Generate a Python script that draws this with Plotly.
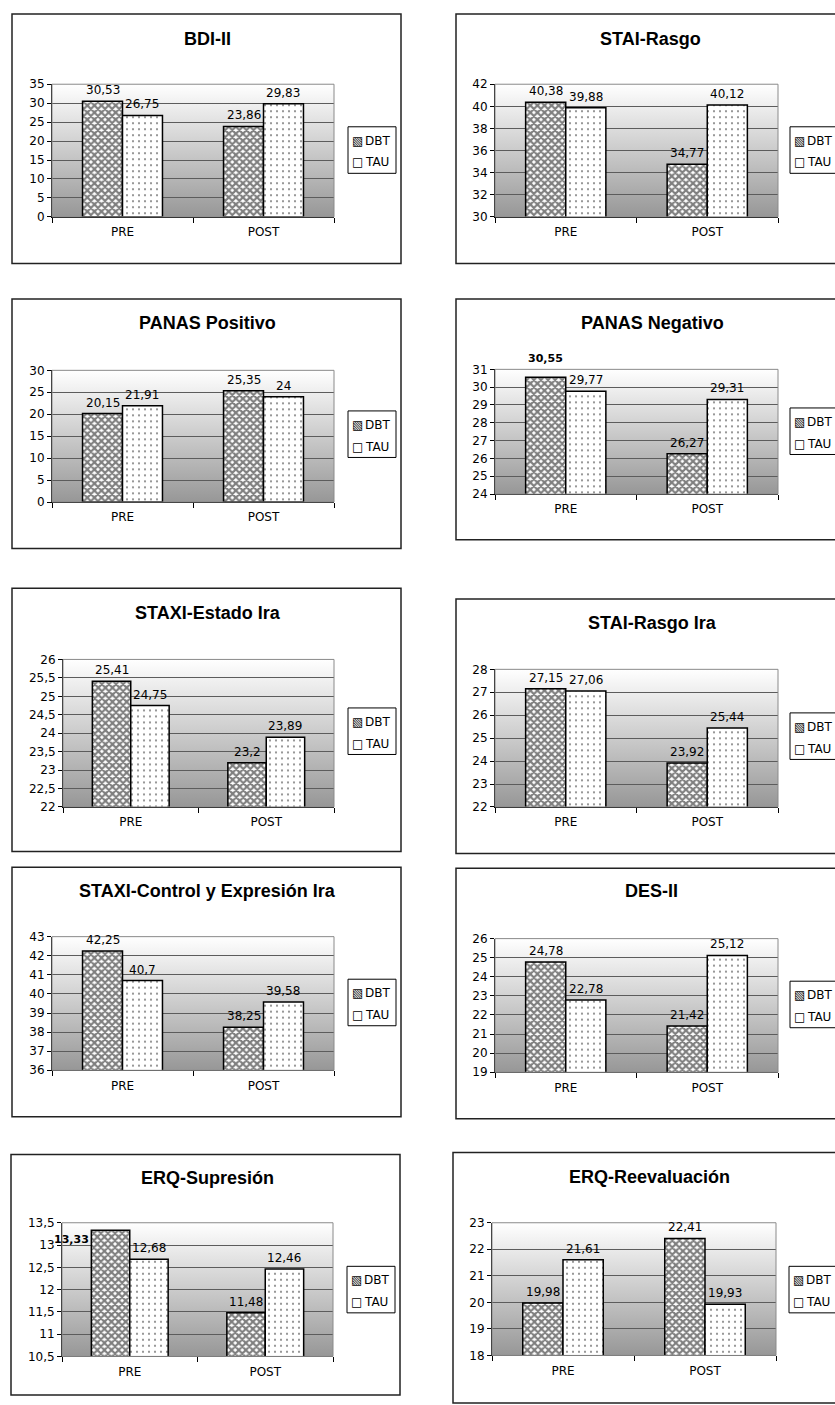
import base64
import plotly.graph_objects as go

# ---- data -------------------------------------------------------------
titles = ["BDI-II", "STAI-Rasgo", "PANAS Positivo", "PANAS Negativo",
          "STAXI-Estado Ira", "STAI-Rasgo Ira", "STAXI-Control y Expresión Ira",
          "DES-II", "ERQ-Supresión", "ERQ-Reevaluación"]
phases = ["PRE", "POST"]
groups = ["DBT", "TAU"]
dbt = [[30.53, 23.86], [40.38, 34.77], [20.15, 25.35], [30.55, 26.27],
       [25.41, 23.2], [27.15, 23.92], [42.25, 38.25], [24.78, 21.42],
       [13.33, 11.48], [19.98, 22.41]]
tau = [[26.75, 29.83], [39.88, 40.12], [21.91, 24], [29.77, 29.31],
       [24.75, 23.89], [27.06, 25.44], [40.7, 39.58], [22.78, 25.12],
       [12.68, 12.46], [21.61, 19.93]]
y_min = [0, 30, 0, 24, 22, 22, 36, 19, 10.5, 18]
y_max = [35, 42, 30, 31, 26, 28, 43, 26, 13.5, 23]
y_step = [5, 2, 5, 1, 0.5, 1, 1, 1, 0.5, 1]

# ---- page geometry (pixels) ------------------------------------------
W, H = 835, 1405
frames = [(12, 7, 401, 259), (456, 7, 850, 259),
          (12, 295, 401, 547), (456, 295, 850, 538),
          (12, 587, 401, 853), (456, 598, 850, 855),
          (12, 869, 401, 1121), (456, 870, 850, 1123),
          (11, 1159, 400, 1402), (453, 1157, 850, 1410)]
plots = [(52, 78, 334, 212), (495, 78, 778, 212),
         (52, 367, 334, 500), (495, 366, 778, 492),
         (63, 659, 334, 808), (495, 669, 778, 808),
         (52, 939, 334, 1074), (495, 941, 778, 1076),
         (62, 1228, 333, 1363), (492, 1228, 776, 1362)]
title_pos = [(207, 32), (650, 32), (207, 319), (652, 319), (208, 612),
             (652, 622), (207, 893), (651, 893), (207, 1183), (649, 1182)]
legend_pos = [(348, 121), (790, 121), (348, 408), (790, 405), (348, 708),
              (790, 713), (348, 982), (790, 984), (347, 1272), (789, 1272)]

BARGAP = 0.433
HALF = (1 - BARGAP) / 4  # centre offset of each bar inside a category

TICK_FONT = dict(family="DejaVu Sans", size=12, color="black")
TITLE_FONT = dict(family="Liberation Sans, Arial", size=18, color="black")

PAT_DBT = dict(shape="x", fgcolor="black", bgcolor="white", size=5, solidity=0.68)
PAT_TAU = dict(shape=".", fgcolor="black", bgcolor="white", size=6, solidity=0.1)

# vertical white-to-grey gradient used as the plot-area fill
grad_svg = ('<svg xmlns="http://www.w3.org/2000/svg" width="10" height="100" '
            'preserveAspectRatio="none"><defs><linearGradient id="g" x1="0" y1="0" '
            'x2="0" y2="1"><stop offset="0" stop-color="#ffffff"/>'
            '<stop offset="1" stop-color="#979797"/></linearGradient></defs>'
            '<rect width="10" height="100" fill="url(#g)"/></svg>')
grad_src = "data:image/svg+xml;base64," + base64.b64encode(grad_svg.encode()).decode()


def px(x):
    return x / W


def py(y):
    return 1 - y / H


def fmt(v):
    return f"{v:g}".replace(".", ",")


# label placement tweaks for a couple of emphasised values
special = {(3, 0, 0): dict(xanchor="center", yanchor="bottom", yshift=10),
           (8, 0, 0): dict(xanchor="right", yanchor="middle", yshift=-9)}

fig = go.Figure()
layout = dict(width=W, height=H, margin=dict(l=0, r=0, t=0, b=0),
              paper_bgcolor="white", plot_bgcolor="rgba(0,0,0,0)",
              barmode="group", bargap=BARGAP, bargroupgap=0,
              separators=", ", showlegend=False)
shapes, annotations, images = [], [], []

for i in range(len(titles)):
    n = "" if i == 0 else str(i + 1)
    xa, ya = "x" + n, "y" + n
    x0, y0, x1, y1 = plots[i]

    for series, vals, pat in ((0, dbt[i], PAT_DBT), (1, tau[i], PAT_TAU)):
        fig.add_trace(go.Bar(
            x=[0, 1], y=vals, name=groups[series], xaxis=xa, yaxis=ya,
            marker=dict(color="white", line=dict(color="black", width=1.5),
                        pattern=pat),
            showlegend=False, hoverinfo="skip"))
        for c, v in enumerate(vals):
            xc = c + (-HALF if series == 0 else HALF)
            sp = special.get((i, series, c))
            if sp is None:
                annotations.append(dict(
                    x=xc, y=v, xref=xa, yref=ya, text=fmt(v), showarrow=False,
                    xanchor="center", yanchor="bottom", yshift=2, font=TICK_FONT))
            else:
                xx = xc - HALF if sp["xanchor"] == "right" else xc
                annotations.append(dict(
                    x=xx, y=v, xref=xa, yref=ya, text="<b>" + fmt(v) + "</b>",
                    showarrow=False, xanchor=sp["xanchor"],
                    yanchor=sp["yanchor"], yshift=sp["yshift"],
                    font=dict(family="DejaVu Sans", size=11, color="black")))

    layout["xaxis" + n] = dict(
        domain=[px(x0), px(x1)], anchor=ya, range=[-0.5, 1.5],
        tickmode="array", tickvals=[0, 1], ticktext=phases, ticks="",
        showline=True, linecolor="black", linewidth=1, showgrid=False,
        zeroline=False, tickfont=TICK_FONT, ticklabelstandoff=4,
        minor=dict(tickmode="array", tickvals=[-0.5, 0.5, 1.5], ticks="outside",
                   ticklen=5, tickcolor="black", showgrid=False))
    layout["yaxis" + n] = dict(
        domain=[py(y1), py(y0)], anchor=xa, range=[y_min[i], y_max[i]],
        tick0=y_min[i], dtick=y_step[i], ticks="outside", ticklen=4,
        tickcolor="black", showline=True, linecolor="black", linewidth=1,
        showgrid=True, gridcolor="#5c5c5c", gridwidth=1, zeroline=False,
        tickfont=TICK_FONT)

    images.append(dict(source=grad_src, xref="paper", yref="paper",
                       x=px(x0), y=py(y0), sizex=px(x1) - px(x0),
                       sizey=py(y0) - py(y1), sizing="stretch",
                       xanchor="left", yanchor="top", layer="below"))
    # plot-area border (grey) and chart frame (black)
    shapes.append(dict(type="rect", xref="paper", yref="paper",
                       x0=px(x0), x1=px(x1), y0=py(y1), y1=py(y0),
                       line=dict(color="#8a8a8a", width=1),
                       fillcolor="rgba(0,0,0,0)", layer="above"))
    fx0, fy0, fx1, fy1 = frames[i]
    shapes.append(dict(type="rect", xref="paper", yref="paper",
                       x0=px(fx0), x1=px(fx1), y0=py(fy1), y1=py(fy0),
                       line=dict(color="#222222", width=1.5),
                       fillcolor="rgba(0,0,0,0)", layer="above"))

    tx, ty = title_pos[i]
    annotations.append(dict(x=px(tx), y=py(ty), xref="paper", yref="paper",
                            text="<b>" + titles[i] + "</b>", showarrow=False,
                            xanchor="center", yanchor="middle", font=TITLE_FONT))

    # legend box: symbol and name drawn as separate texts
    lx, ly = legend_pos[i]
    shapes.append(dict(type="rect", xref="paper", yref="paper",
                       x0=px(lx), x1=px(lx + 48), y0=py(ly + 47), y1=py(ly),
                       line=dict(color="black", width=1), fillcolor="white",
                       layer="above"))
    for k, (sym, name) in enumerate((("▧", groups[0]), ("□", groups[1]))):
        yk = py(ly + 14 + 22 * k)
        annotations.append(dict(x=px(lx + 2), y=yk, xref="paper", yref="paper",
                                text=sym, showarrow=False, xanchor="left",
                                yanchor="middle", font=TICK_FONT))
        annotations.append(dict(x=px(lx + 15), y=yk, xref="paper", yref="paper",
                                text=name, showarrow=False, xanchor="left",
                                yanchor="middle", font=TICK_FONT))

layout["shapes"] = shapes
layout["annotations"] = annotations
layout["images"] = images
fig.update_layout(**layout)
fig.write_html("out.html")
